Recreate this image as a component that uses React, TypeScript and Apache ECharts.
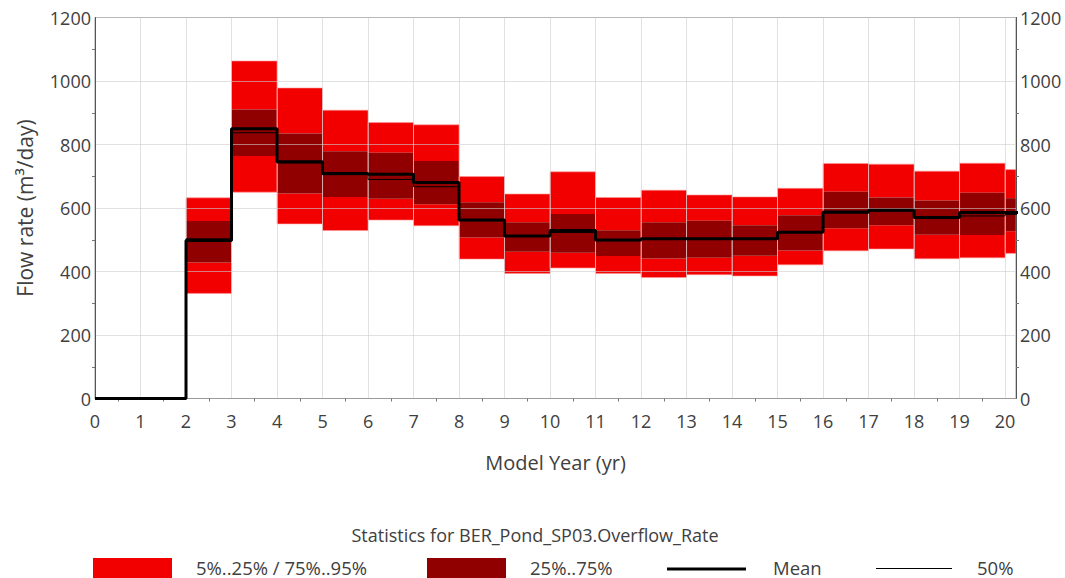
import React, { useEffect, useRef } from "react";
import * as echarts from "echarts";

// Year intervals [year, year+1]
const years = [2, 3, 4, 5, 6, 7, 8, 9, 10, 11, 12, 13, 14, 15, 16, 17, 18, 19, 20];
const p5 = [331, 650, 550, 529, 562, 544, 439, 394, 411, 394, 381, 390, 386, 421, 465, 471, 440, 443, 457];
const p25 = [428, 764, 646, 635, 629, 612, 507, 462, 459, 449, 441, 443, 450, 466, 536, 546, 516, 515, 527];
const p75 = [559, 910, 835, 779, 774, 748, 618, 555, 581, 530, 555, 560, 546, 577, 651, 633, 624, 648, 631];
const p95 = [632, 1063, 978, 908, 869, 862, 699, 644, 714, 633, 656, 641, 635, 662, 740, 738, 716, 741, 721];
const meanVals = [498, 850, 746, 709, 706, 680, 562, 512, 529, 499, 503, 503, 503, 524, 587, 593, 570, 586, 585];
const medianVals = [503, 837, 742, 705, 690, 667, 560, 512, 523, 497, 501, 501, 501, 524, 590, 591, 572, 575, 580];
const zeroYears = [0, 1];
const yTicks = [0, 200, 400, 600, 800, 1000, 1200];

const FONT = "'Open Sans', 'Noto Sans', sans-serif";
const TXT = "#404040";
const LIGHT = "#f20000";
const DARK = "#900000";

export default function App() {
  const ref = useRef<HTMLDivElement>(null);
  useEffect(() => {
    if (!ref.current) return;
    const chart = echarts.init(ref.current, undefined, { renderer: "svg" });

    const bandData = years.map((y, i) => [y, p5[i], p25[i], p75[i], p95[i]]);
    const stepData = (vals: number[]) => {
      const d: number[][] = zeroYears.map((y) => [y, 0]);
      years.forEach((y, i) => d.push([y, vals[i]]));
      d.push([years[years.length - 1] + 1, vals[vals.length - 1]]);
      return d;
    };

    const renderItem = (params: any, api: any) => {
      const x0 = api.value(0);
      const levels = [api.value(1), api.value(2), api.value(3), api.value(4)];
      const cs = params.coordSys;
      const mk = (lo: number, hi: number, fill: string, stroke?: string) => {
        const a = api.coord([x0, hi]);
        const b = api.coord([x0 + 1, lo]);
        const r = echarts.graphic.clipRectByRect(
          { x: a[0], y: a[1], width: b[0] - a[0], height: b[1] - a[1] },
          { x: cs.x, y: cs.y, width: cs.width, height: cs.height }
        );
        if (!r) return null;
        return {
          type: "rect",
          shape: r,
          style: stroke ? { fill, stroke, lineWidth: 1 } : { fill },
        };
      };
      const children = [
        mk(levels[0], levels[1], LIGHT),
        mk(levels[2], levels[3], LIGHT),
        mk(levels[1], levels[2], DARK),
        mk(levels[0], levels[3], "none", "rgba(255,150,150,0.6)"),
      ].filter(Boolean);
      return { type: "group", children };
    };

    const axisLabelStyle = { fontFamily: FONT, fontSize: 18, color: TXT };

    chart.setOption({
      animation: false,
      grid: {
        left: 95,
        right: 49,
        top: 17.5,
        bottom: 179.5,
        show: true,
        borderColor: "#9a9a9a",
        borderWidth: 1,
      },
      xAxis: {
        type: "value",
        min: 0,
        max: 20.24,
        interval: 1,
        z: 3,
        name: "Model Year (yr)",
        nameLocation: "middle",
        nameGap: 54,
        nameTextStyle: { fontFamily: FONT, fontSize: 20, color: TXT },
        axisLine: { show: true, lineStyle: { color: "#9a9a9a" } },
        axisTick: { show: false },
        minorTick: { show: true, splitNumber: 2, length: 3, lineStyle: { color: "#777" } },
        axisLabel: {
          ...axisLabelStyle,
          margin: 13,
          formatter: (v: number) => (Number.isInteger(v) ? String(v) : ""),
        },
        splitLine: { show: true, lineStyle: { color: "rgba(205,205,205,0.6)", width: 1 } },
      },
      yAxis: [
        {
          type: "value",
          min: 0,
          max: 1200,
          interval: 200,
          z: 3,
          name: "Flow rate (m³/day)",
          nameLocation: "middle",
          nameGap: 60,
          nameRotate: 90,
          nameTextStyle: { fontFamily: FONT, fontSize: 21, color: TXT },
          axisLine: { show: true, lineStyle: { color: "#555" } },
          axisTick: { show: false },
          minorTick: { show: true, splitNumber: 2, length: 3, lineStyle: { color: "#777" } },
          axisLabel: {
            ...axisLabelStyle,
            margin: 4,
            formatter: (v: number) => (yTicks.includes(v) ? String(v) : ""),
          },
          splitLine: { show: true, lineStyle: { color: "rgba(205,205,205,0.6)", width: 1 } },
        },
        {
          type: "value",
          position: "right",
          min: 0,
          max: 1200,
          interval: 200,
          z: 3,
          axisLine: { show: true, lineStyle: { color: "#555" } },
          axisTick: { show: false },
          minorTick: { show: true, splitNumber: 2, length: 3, lineStyle: { color: "#777" } },
          axisLabel: {
            ...axisLabelStyle,
            margin: 4,
            formatter: (v: number) => (yTicks.includes(v) ? String(v) : ""),
          },
          splitLine: { show: false },
        },
      ],
      series: [
        {
          type: "custom",
          name: "bands",
          z: 1,
          renderItem,
          data: bandData,
          encode: { x: 0, y: [1, 4] },
        },
        {
          type: "line",
          name: "Mean",
          z: 5,
          step: "end",
          symbol: "none",
          data: stepData(meanVals),
          lineStyle: { color: "#000", width: 3 },
          clip: true,
        },
        {
          type: "line",
          name: "50%",
          z: 6,
          step: "end",
          symbol: "none",
          data: stepData(medianVals),
          lineStyle: { color: "#000", width: 1 },
          clip: true,
        },
      ],
      graphic: [
        {
          type: "text",
          x: 535,
          y: 535,
          style: {
            text: "Statistics for BER_Pond_SP03.Overflow_Rate",
            fontFamily: FONT,
            fontSize: 18,
            fill: TXT,
            align: "center",
            verticalAlign: "middle",
          },
        },
        { type: "rect", shape: { x: 93, y: 558, width: 79, height: 30 }, style: { fill: LIGHT } },
        {
          type: "text",
          x: 196,
          y: 567,
          style: { text: "5%..25% / 75%..95%", fontFamily: FONT, fontSize: 18.5, fill: TXT, verticalAlign: "middle" },
        },
        { type: "rect", shape: { x: 427, y: 558, width: 79, height: 30 }, style: { fill: DARK } },
        {
          type: "text",
          x: 530,
          y: 567,
          style: { text: "25%..75%", fontFamily: FONT, fontSize: 18.5, fill: TXT, verticalAlign: "middle" },
        },
        {
          type: "line",
          shape: { x1: 667, y1: 569, x2: 746, y2: 569 },
          style: { stroke: "#000", lineWidth: 3 },
        },
        {
          type: "text",
          x: 773,
          y: 567,
          style: { text: "Mean", fontFamily: FONT, fontSize: 18.5, fill: TXT, verticalAlign: "middle" },
        },
        {
          type: "line",
          shape: { x1: 876, y1: 568.5, x2: 952, y2: 568.5 },
          style: { stroke: "#000", lineWidth: 1 },
        },
        {
          type: "text",
          x: 977,
          y: 567,
          style: { text: "50%", fontFamily: FONT, fontSize: 18.5, fill: TXT, verticalAlign: "middle" },
        },
      ],
    });
    return () => chart.dispose();
  }, []);
  return (
    <div
      ref={ref}
      style={{ position: "fixed", left: 0, top: 0, width: 1065, height: 578, background: "#fff" }}
    />
  );
}
